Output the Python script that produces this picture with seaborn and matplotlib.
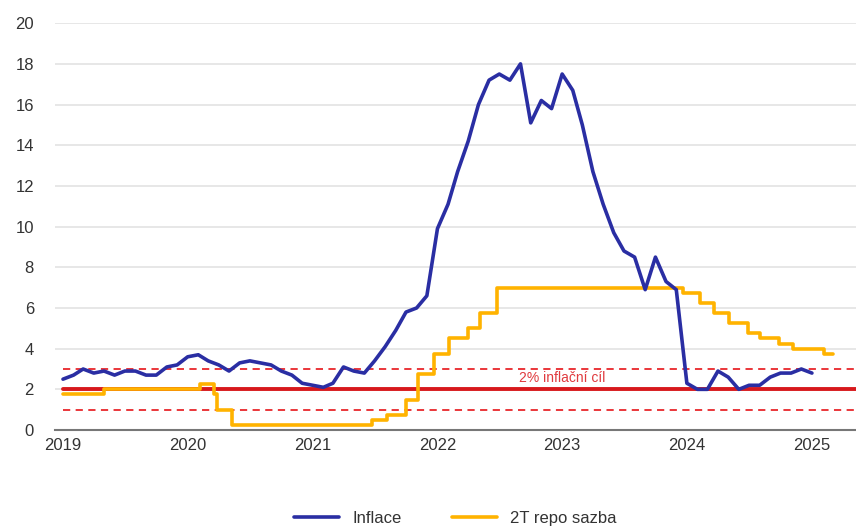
import pandas as pd
import matplotlib.pyplot as plt
import matplotlib.dates as mdates
import seaborn as sns

# --- data ---
# monthly inflation (%), Jan 2019 - Jan 2025
infl_start = '2019-01-01'
inflace = [2.5, 2.7, 3.0, 2.8, 2.9, 2.7, 2.9, 2.9, 2.7, 2.7, 3.1, 3.2,
           3.6, 3.7, 3.4, 3.2, 2.9, 3.3, 3.4, 3.3, 3.2, 2.9, 2.7, 2.3,
           2.2, 2.1, 2.3, 3.1, 2.9, 2.8, 3.4, 4.1, 4.9, 5.8, 6.0, 6.6,
           9.9, 11.1, 12.7, 14.2, 16.0, 17.2, 17.5, 17.2, 18.0, 15.1, 16.2, 15.8,
           17.5, 16.7, 15.0, 12.7, 11.1, 9.7, 8.8, 8.5, 6.9, 8.5, 7.3, 6.9,
           2.3, 2.0, 2.0, 2.9, 2.6, 2.0, 2.2, 2.2, 2.6, 2.8, 2.8, 3.0,
           2.8]

# 2W repo rate - dates of change and new level
repo_dates = ['2019-01-01', '2019-05-02', '2020-02-07', '2020-03-17', '2020-03-27',
              '2020-05-11', '2021-06-24', '2021-08-06', '2021-10-01', '2021-11-04',
              '2021-12-23', '2022-02-03', '2022-03-31', '2022-05-06', '2022-06-23',
              '2023-12-21', '2024-02-08', '2024-03-21', '2024-05-03', '2024-06-27',
              '2024-08-01', '2024-09-26', '2024-11-07', '2025-02-06', '2025-03-03']
repo = [1.75, 2.00, 2.25, 1.75, 1.00,
        0.25, 0.50, 0.75, 1.50, 2.75,
        3.75, 4.50, 5.00, 5.75, 7.00,
        6.75, 6.25, 5.75, 5.25, 4.75,
        4.50, 4.25, 4.00, 3.75, 3.75]

target = 2.0
band = [1.0, 3.0]
target_label = '2% inflační cíl'
labels = ['Inflace', '2T repo sazba']

df_inf = pd.DataFrame({'datum': pd.date_range(infl_start, periods=len(inflace), freq='MS'),
                       'hodnota': inflace})
df_repo = pd.DataFrame({'datum': pd.to_datetime(repo_dates), 'hodnota': repo})

# --- plot ---
sns.set_style('white')
plt.rcParams['font.family'] = ['Liberation Sans', 'DejaVu Sans']

fig = plt.figure(figsize=(8.56, 5.27), dpi=100)
ax = fig.add_axes([0.064, 0.184, 0.936, 0.772])

blue = '#2a2ea3'
yellow = '#ffb300'
red = '#d7191c'

x0 = pd.Timestamp('2019-01-01')
x_end = pd.Timestamp('2025-05-10')
ax.plot([x0, x_end], [target, target], color=red, lw=2.8, zorder=2)
for b in band:
    ax.plot([x0, x_end], [b, b], color='#e8262b', lw=1.3, ls=(0, (4, 3)), zorder=2)

sns.lineplot(data=df_repo, x='datum', y='hodnota', color=yellow, lw=2.6,
             drawstyle='steps-post', ax=ax, label=labels[1], zorder=3)
sns.lineplot(data=df_inf, x='datum', y='hodnota', color=blue, lw=2.6,
             ax=ax, label=labels[0], zorder=4)

ax.text(pd.Timestamp('2023-01-01'), 2.2, target_label, color='#e03a3e',
        fontsize=10, ha='center', va='bottom')

ax.set_xlim(pd.Timestamp('2018-12-08'), x_end)
ax.set_ylim(0, 20)
ax.set_yticks(range(0, 21, 2))
ax.xaxis.set_major_locator(mdates.YearLocator())
ax.xaxis.set_major_formatter(mdates.DateFormatter('%Y'))
ax.set_xlabel('')
ax.set_ylabel('')

ax.grid(axis='y', color='#e3e3e3', lw=1.2)
ax.grid(axis='x', visible=False)
for s in ['top', 'right', 'left']:
    ax.spines[s].set_visible(False)
ax.spines['bottom'].set_color('#777777')
ax.spines['bottom'].set_linewidth(1.5)
ax.tick_params(axis='y', length=0, labelsize=12, labelcolor='#333333', pad=15)
ax.tick_params(axis='x', length=3, width=1, color='#bbbbbb', labelsize=12,
               labelcolor='#333333', pad=3)

handles, lbls = ax.get_legend_handles_labels()
order = [lbls.index(labels[0]), lbls.index(labels[1])]
ax.legend([handles[i] for i in order], [lbls[i] for i in order], ncol=2,
          loc='center', bbox_to_anchor=(0.532, 0.017), bbox_transform=fig.transFigure,
          frameon=False, fontsize=12, handlelength=2.7, handletextpad=0.8,
          columnspacing=3.0, labelcolor='#333333')

plt.savefig('out.png', dpi=100)
